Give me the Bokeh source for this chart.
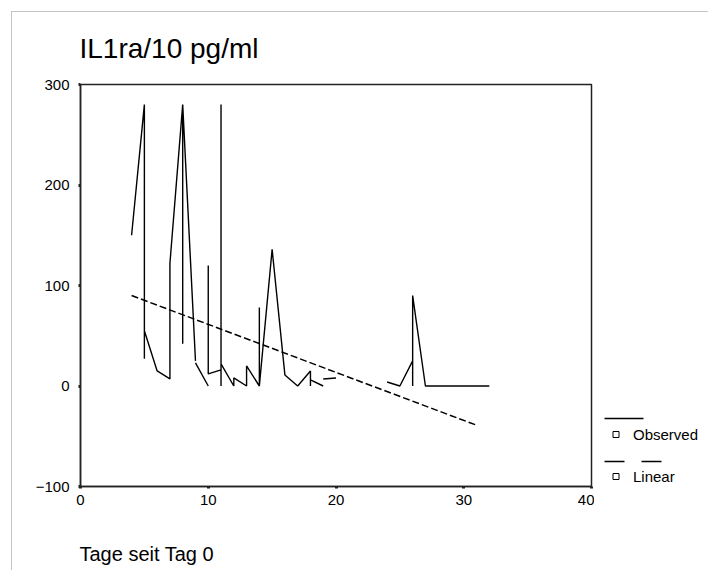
from bokeh.plotting import figure
from bokeh.layouts import row
from bokeh.models import FixedTicker, Range1d, Title
from bokeh.embed import file_html
from bokeh.resources import INLINE

NaN = float("nan")

# ---- data ----
title_text = "IL1ra/10 pg/ml"
x_label_text = "Tage seit Tag 0"
x_ticks = [0, 10, 20, 30, 40]
y_ticks = [-100, 0, 100, 200, 300]

# Observed series (NaN marks a gap between connected runs)
obs_x = [4, 5, 5, 5, 6, 7, 7, 8, 8, NaN,
         8, 9, NaN,
         9, 10, NaN,
         10, 10, 11, 11, 11, 11, 12, 12, 13, 13, 14, 14, 14, 15, 16, 17, 18, 18, NaN,
         18, 19, NaN,
         19, 20, NaN,
         24, 25, 26, 26, 26, 27, 32]
obs_y = [150, 280, 27, 55, 15, 7, 122, 280, 42, NaN,
         280, 25, NaN,
         23, 0, NaN,
         120, 12, 16, 280, 0, 22, 0, 8, 0, 20, 0, 78, 0, 136, 11, 0, 15, 0, NaN,
         6, 0, NaN,
         7, 8, NaN,
         4, 0, 25, 0, 90, 0, 0]

# Linear fit line (end points)
lin_x = [4, 31]
lin_y = [90, -39]

legend_labels = ["Observed", "Linear"]

# ---- layout (page pixels; content sits inside a 1px grey page frame at x=y=11) ----
OFF = 12
H = 571 - OFF
MAIN_W = 594 - OFF
LEG_W = 709 - 594
FL, FR, FT, FB = 80 - OFF, 591 - OFF, 84 - OFF, 486 - OFF
FONT = "Liberation Sans"

p = figure(width=MAIN_W, height=H, output_backend="svg", toolbar_location=None,
           x_range=Range1d(0, 40), y_range=Range1d(-100, 300),
           min_border_left=FL, min_border_right=MAIN_W - FR,
           min_border_top=FT, min_border_bottom=H - FB)
p.background_fill_color = "white"
p.border_fill_color = "white"
p.outline_line_color = "#222222"
p.outline_line_width = 1.5
p.xgrid.visible = False
p.ygrid.visible = False

p.title.text = title_text
p.title.align = "left"
p.title.offset = -1
p.title.vertical_align = "top"
p.title.text_font = FONT
p.title.text_font_size = "28px"
p.title.text_font_style = "normal"
p.title.text_color = "black"
p.title.standoff = 38

for ax, ticks in ((p.xaxis, x_ticks), (p.yaxis, y_ticks)):
    ax.ticker = FixedTicker(ticks=ticks)
    ax.axis_line_color = "#222222"
    ax.axis_line_width = 1.5
    ax.major_tick_in = 0
    ax.major_tick_out = 2
    ax.major_tick_line_width = 3
    ax.major_tick_line_color = "#222222"
    ax.minor_tick_line_color = None
    ax.major_label_text_font = FONT
    ax.major_label_text_font_size = "15px"
    ax.major_label_text_color = "black"
p.yaxis.major_label_standoff = 9
p.xaxis.major_label_standoff = 6

# x-axis title, left aligned under the frame (a blank spacer title gives the gap)
p.add_layout(Title(text=" ", text_font_size="10px", standoff=20), "below")
p.add_layout(Title(text=x_label_text, align="left", offset=-1, standoff=0,
                   vertical_align="bottom", text_font=FONT, text_font_size="20px",
                   text_font_style="normal", text_color="black"), "below")

# observed and linear lines
p.line(obs_x, obs_y, line_color="black", line_width=1.4)
p.line(lin_x, lin_y, line_color="black", line_width=1.5, line_dash="7 3")

# ---- legend panel (its own small figure; its frame is aligned with the main frame,
#      so its ranges are given in page pixels of that frame) ----
leg = figure(width=LEG_W, height=H, output_backend="svg", toolbar_location=None,
             x_range=Range1d(594, 709), y_range=Range1d(486, 84),
             x_axis_location=None, y_axis_location=None,
             min_border=0, outline_line_color=None)
leg.xgrid.visible = False
leg.ygrid.visible = False
leg.background_fill_color = "white"
leg.border_fill_color = "white"

# sample line positions (x0, x1, y) and row centres of square + label
sample_obs = (604, 643, 418)
sample_lin = (604, 662, 461)
row_y = [434, 476]
square_x, text_x = 615.5, 632.5

leg.line([sample_obs[0], sample_obs[1]], [sample_obs[2], sample_obs[2]],
         line_color="black", line_width=1.3)
leg.line([sample_lin[0], sample_lin[1]], [sample_lin[2], sample_lin[2]],
         line_color="black", line_width=1.5, line_dash="20 17")
leg.scatter([square_x] * 2, row_y, marker="square", size=6, fill_color=None,
            line_color="black", line_width=1)
leg.text([text_x] * 2, row_y, text=legend_labels, text_font_size="15px",
         text_color="black", text_baseline="middle", text_align="left",
         text_font={"value": FONT})

layout = row(p, leg, spacing=0, margin=(OFF, 0, 0, OFF),
             stylesheets=[":host { box-shadow: -1px -1px 0 0 #c4c4c4; }"])

open("out.html", "w").write(file_html(layout, INLINE))
